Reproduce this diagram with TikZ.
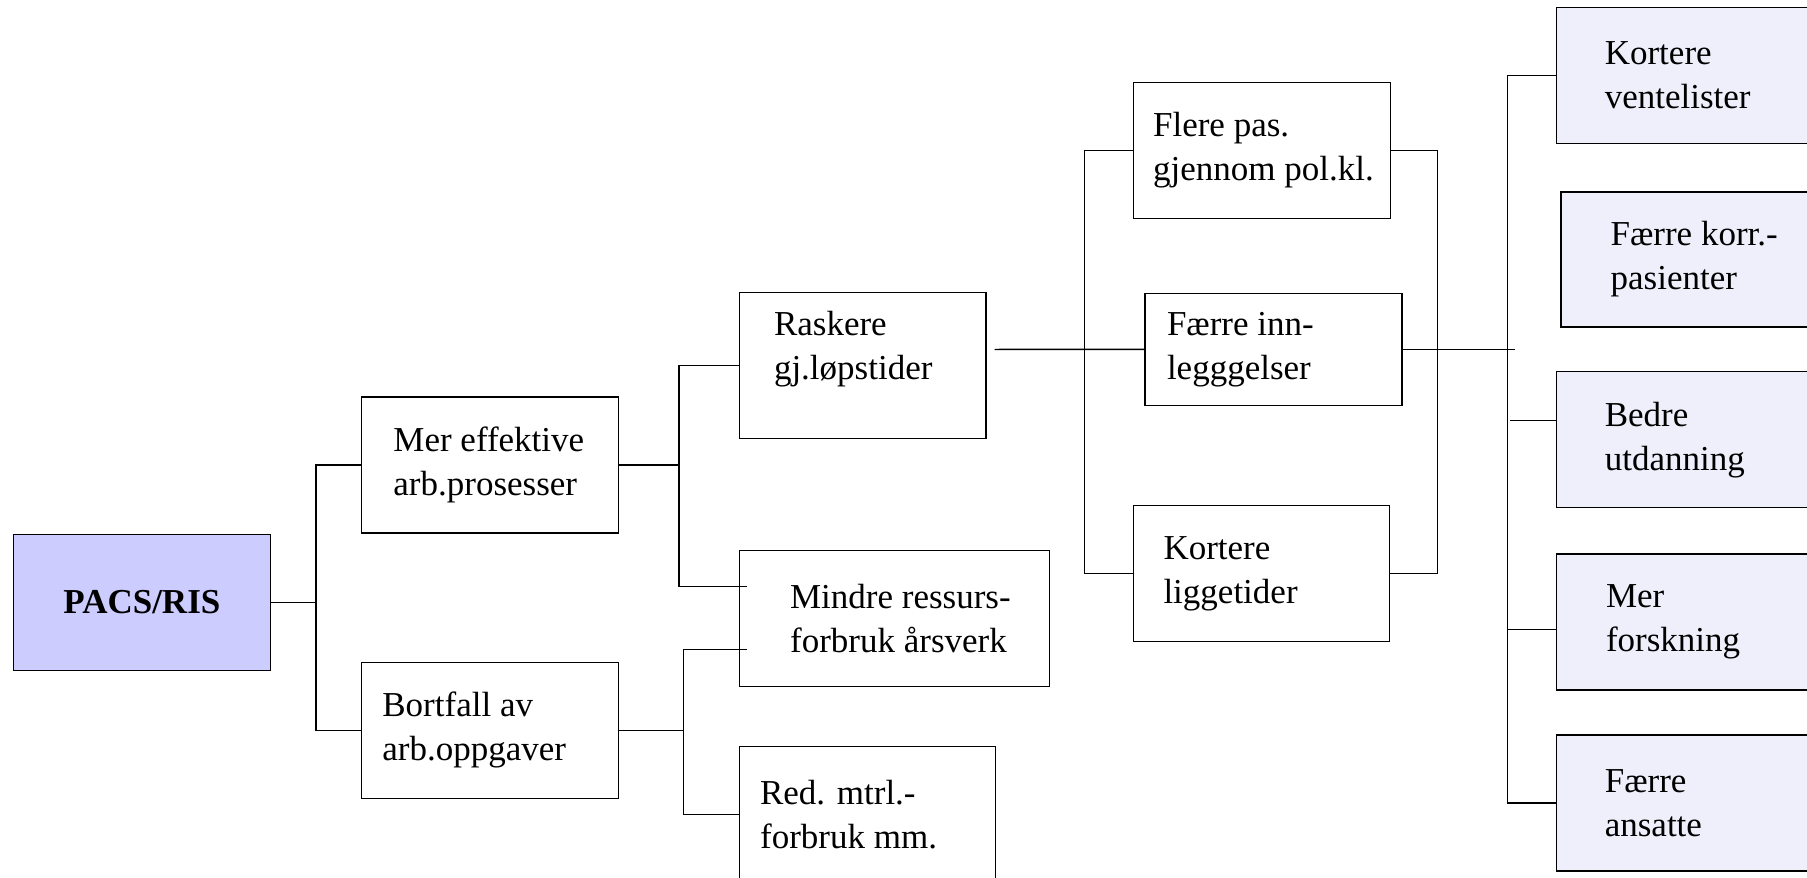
\documentclass[tikz,border=0pt]{standalone}
\usepackage{fontspec}
\setmainfont{Liberation Serif}
\usepackage{tikz}
\usetikzlibrary{calc,positioning}
\definecolor{pacsblue}{RGB}{204,204,255}
\definecolor{paleblue}{RGB}{239,239,252}

\begin{document}
\begin{tikzpicture}[x=1pt, y=-1pt, line width=1.4pt,
    box/.style={draw, rectangle, inner sep=0pt, anchor=north west, minimum width=257pt, minimum height=136pt},
    rbox/.style={box, fill=paleblue, minimum width=280pt},
    txt/.style={inner sep=0pt, anchor=west, align=left, font=\fontsize{35}{44}\selectfont}]
    \useasboundingbox (0,0) rectangle (1807,878);
    \clip (0,0) rectangle (1807,878);
    \node[box, fill=pacsblue, font=\fontsize{35}{44}\selectfont\bfseries] (pacs) at (12.7,533.6) {PACS/RIS};
    \node[box] (mer) at (360.7,396.4) {};
    \node[box] (bort) at (360.7,661.5) {};
    \node[box, minimum width=246.6pt, minimum height=146.3pt] (ras) at (738.7,291.6) {};
    \node[box, minimum width=310pt] (mindre) at (738.7,549.7) {};
    \node[box, minimum width=255.8pt] (red) at (738.7,745.6) {};
    \node[box] (flere) at (1132.8,81.8) {};
    \node[box, minimum height=111.8pt] (innl) at (1144.3,292.7) {};
    \node[box, minimum width=255.8pt] (ligg) at (1132.8,504.8) {};
    \node[rbox] (vent) at (1555.7,6.9) {};
    \node[rbox, minimum height=134.8pt] (korr) at (1560.3,191.3) {};
    \node[rbox] (utd) at (1555.7,371) {};
    \node[rbox] (forsk) at (1555.7,553.2) {};
    \node[rbox] (ans) at (1555.7,734.1) {};

    \node[txt] (merT) at ([xshift=32pt]mer.west) {Mer effektive\\arb.prosesser};
    \node[txt] (bortT) at ([xshift=21pt]bort.west) {Bortfall av\\arb.oppgaver};
    \node[txt] (rasT) at ([xshift=34.6pt,yshift=16pt]ras.west) {Raskere\\gj.løpstider};
    \node[txt] (mindreT) at ([xshift=50.7pt]mindre.west) {Mindre ressurs-\\forbruk årsverk};
    \node[txt] (redT) at ([xshift=20.7pt]red.west) {Red. mtrl.-\\forbruk mm.};
    \node[txt] (flereT) at ([xshift=19.6pt]flere.west) {Flere pas.\\gjennom pol.kl.};
    \node[txt] (innlT) at ([xshift=22pt]innl.west) {Færre inn-\\legggelser};
    \node[txt] (liggT) at ([xshift=30pt]ligg.west) {Kortere\\liggetider};
    \node[txt] (ventT) at ([xshift=48.4pt]vent.west) {Kortere\\ventelister};
    \node[txt] (korrT) at ([xshift=49.6pt]korr.west) {Færre korr.-\\pasienter};
    \node[txt] (utdT) at ([xshift=48.4pt]utd.west) {Bedre\\utdanning};
    \node[txt] (forskT) at ([xshift=49.6pt]forsk.west) {Mer\\forskning};
    \node[txt] (ansT) at ([xshift=48.4pt]ans.west) {Færre\\ansatte};

    \draw (pacs.east) -- ++(45,0) coordinate (j1);
    \draw (mer.west) -| (j1) |- (bort.west);
    \draw (mer.east) -- ++(60,0) coordinate (j2);
    \draw (ras.west) -| (j2) |- ([xshift=8pt,yshift=32pt]mindre.west);
    \draw (bort.east) -- ++(64.5,0) coordinate (j3);
    \draw ([xshift=8pt,yshift=-31pt]mindre.west) -| (j3) |- (red.west);
    \draw ([xshift=8pt,yshift=16pt]ras.east) -- (innl.west);
    \draw (flere.west) -- ++(-48.4,0) |- (ligg.west);
    \draw (flere.east) -- ++(46,0) |- (ligg.east);
    \draw (innl.east) -- ++(112,0) coordinate (j5);
    \draw (vent.west) -- ++(-48.4,0) |- (ans.west);
    \draw ([yshift=19pt]utd.west) -- ++(-46,0);
    \draw ([yshift=-7.5pt]forsk.west) -- ++(-48.4,0);
\end{tikzpicture}
\end{document}
